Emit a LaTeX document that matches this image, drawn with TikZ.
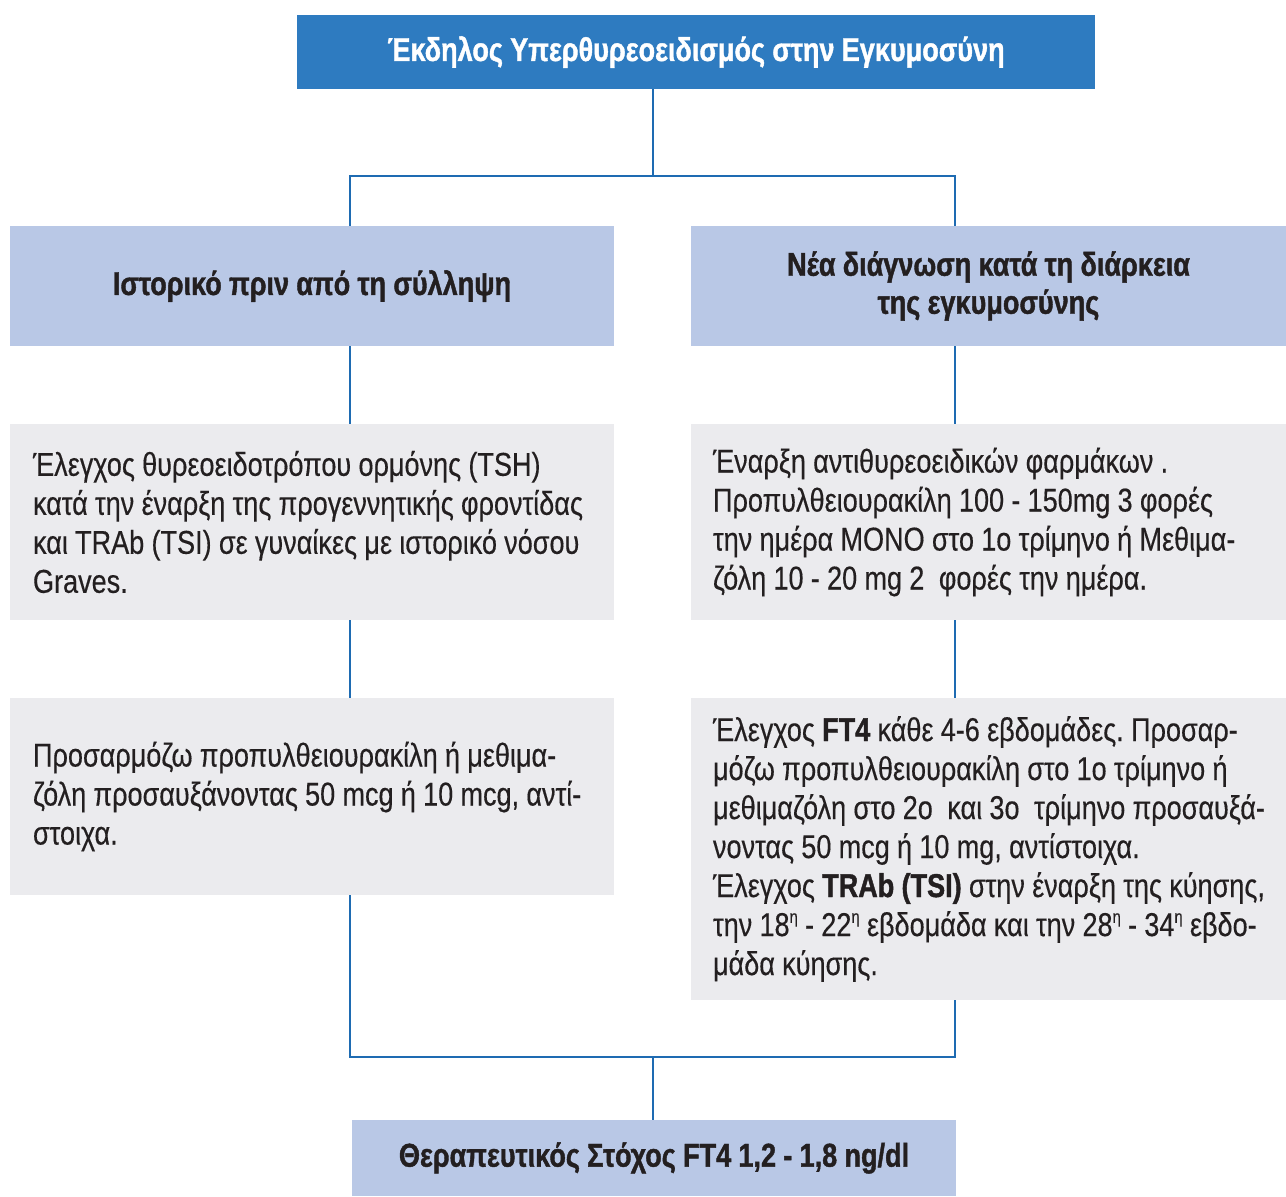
\documentclass[tikz,border=0pt]{standalone}
\usepackage{fontspec}
\setmainfont{Liberation Sans}[FakeStretch=0.82,UprightFeatures={FakeBold=0.35},BoldFeatures={FakeBold=1.2}]
\usetikzlibrary{positioning}
\definecolor{titleblue}{HTML}{2E7BC0}
\definecolor{headblue}{HTML}{B9C8E6}
\definecolor{boxgray}{HTML}{EBEBEE}
\definecolor{lineblue}{HTML}{1E6BB2}
\definecolor{inkgray}{HTML}{231F20}
\newcommand{\ordeta}{\raisebox{0.75ex}{\fontsize{9}{9}\selectfont η}}

\begin{document}
\begin{tikzpicture}[x=0.5pt,y=-0.5pt,
  tightspace/.style={execute at begin node={\spaceskip=0.22em\relax\xspaceskip=0.22em\relax}},
  titlebox/.style={tightspace,fill=titleblue,text=white,font=\bfseries\fontsize{16.5}{19.5}\selectfont,minimum height=37pt,inner sep=0pt},
  headbox/.style={tightspace,fill=headblue,text=inkgray,font=\bfseries\fontsize{16.5}{19}\selectfont,align=center,minimum height=60pt,inner sep=0pt},
  leftbox/.style={tightspace,fill=boxgray,text=inkgray,font=\fontsize{16.5}{19.5}\selectfont,align=left,text width=279pt,inner xsep=11.5pt,inner ysep=0pt},
  rightbox/.style={tightspace,fill=boxgray,text=inkgray,font=\fontsize{16.5}{19.5}\selectfont,align=left,text width=275.5pt,inner xsep=11pt,inner ysep=0pt},
  flow/.style={draw=lineblue,line width=1pt}]
\useasboundingbox (0,0) rectangle (1286,1196);
% boxes
\node(top)[titlebox,minimum width=399pt] at (696,52){Έκδηλος Υπερθυρεοειδισμός στην Εγκυμοσύνη};
\node(hist)[headbox,minimum width=302pt] at (312,286){Ιστορικό πριν από τη σύλληψη};
\node(newdx)[headbox,minimum width=297.5pt] at (988.5,286){Νέα διάγνωση κατά τη διάρκεια\\της εγκυμοσύνης};
\node(histcheck)[leftbox,minimum height=98pt] at (312,522){Έλεγχος θυρεοειδοτρόπου ορμόνης (TSH)\\κατά την έναρξη της προγεννητικής φροντίδας\\και TRAb (TSI) σε γυναίκες με ιστορικό νόσου\\Graves.};
\node(newstart)[rightbox,minimum height=98pt] at (988.5,522){Έναρξη αντιθυρεοειδικών φαρμάκων .\\ Προπυλθειουρακίλη 100 - 150mg 3 φορές\\την ημέρα ΜΟΝΟ στο 1ο τρίμηνο ή Μεθιμα-\\ζόλη 10 - 20 mg 2~ φορές την ημέρα.};
\node(histadj)[leftbox,minimum height=98.5pt] at (312,796.5){Προσαρμόζω προπυλθειουρακίλη ή μεθιμα-\\ζόλη προσαυξάνοντας 50 mcg ή 10 mcg, αντί-\\στοιχα.};
\node(newmon)[rightbox,minimum height=151pt] at (988.5,849){Έλεγχος \textbf{FT4} κάθε 4-6 εβδομάδες. Προσαρ-\\μόζω προπυλθειουρακίλη στο 1ο τρίμηνο ή\\\mbox{μεθιμαζόλη στο 2ο~ και 3ο~ τρίμηνο προσαυξά-}\\νοντας 50 mcg ή 10 mg, αντίστοιχα.\\\mbox{Έλεγχος \textbf{TRAb (TSI)} στην έναρξη της κύησης,}\\\mbox{την 18\ordeta{} - 22\ordeta{} εβδομάδα και την 28\ordeta{} - 34\ordeta{} εβδο-}\\μάδα κύησης.};
\node(target)[headbox,minimum width=302pt,minimum height=38pt] at (654,1158){Θεραπευτικός Στόχος FT4 1,2 - 1,8 ng/dl};
% connectors
\coordinate(split) at (653,176);
\coordinate(lt) at (350,176);
\coordinate(rt) at (955,176);
\coordinate(lb) at (350,1057);
\coordinate(rb) at (955,1057);
\coordinate(join) at (653,1057);
\draw[flow](top.south -| split)--(split);
\draw[flow](hist.north -| lt)--(lt)--(rt)--(newdx.north -| rt);
\draw[flow](hist.south -| lt)--(histcheck.north -| lt);
\draw[flow](newdx.south -| rt)--(newstart.north -| rt);
\draw[flow](histcheck.south -| lt)--(histadj.north -| lt);
\draw[flow](newstart.south -| rt)--(newmon.north -| rt);
\draw[flow](histadj.south -| lb)--(lb)--(rb)--(newmon.south -| rb);
\draw[flow](join)--(target.north -| join);
\end{tikzpicture}
\end{document}
